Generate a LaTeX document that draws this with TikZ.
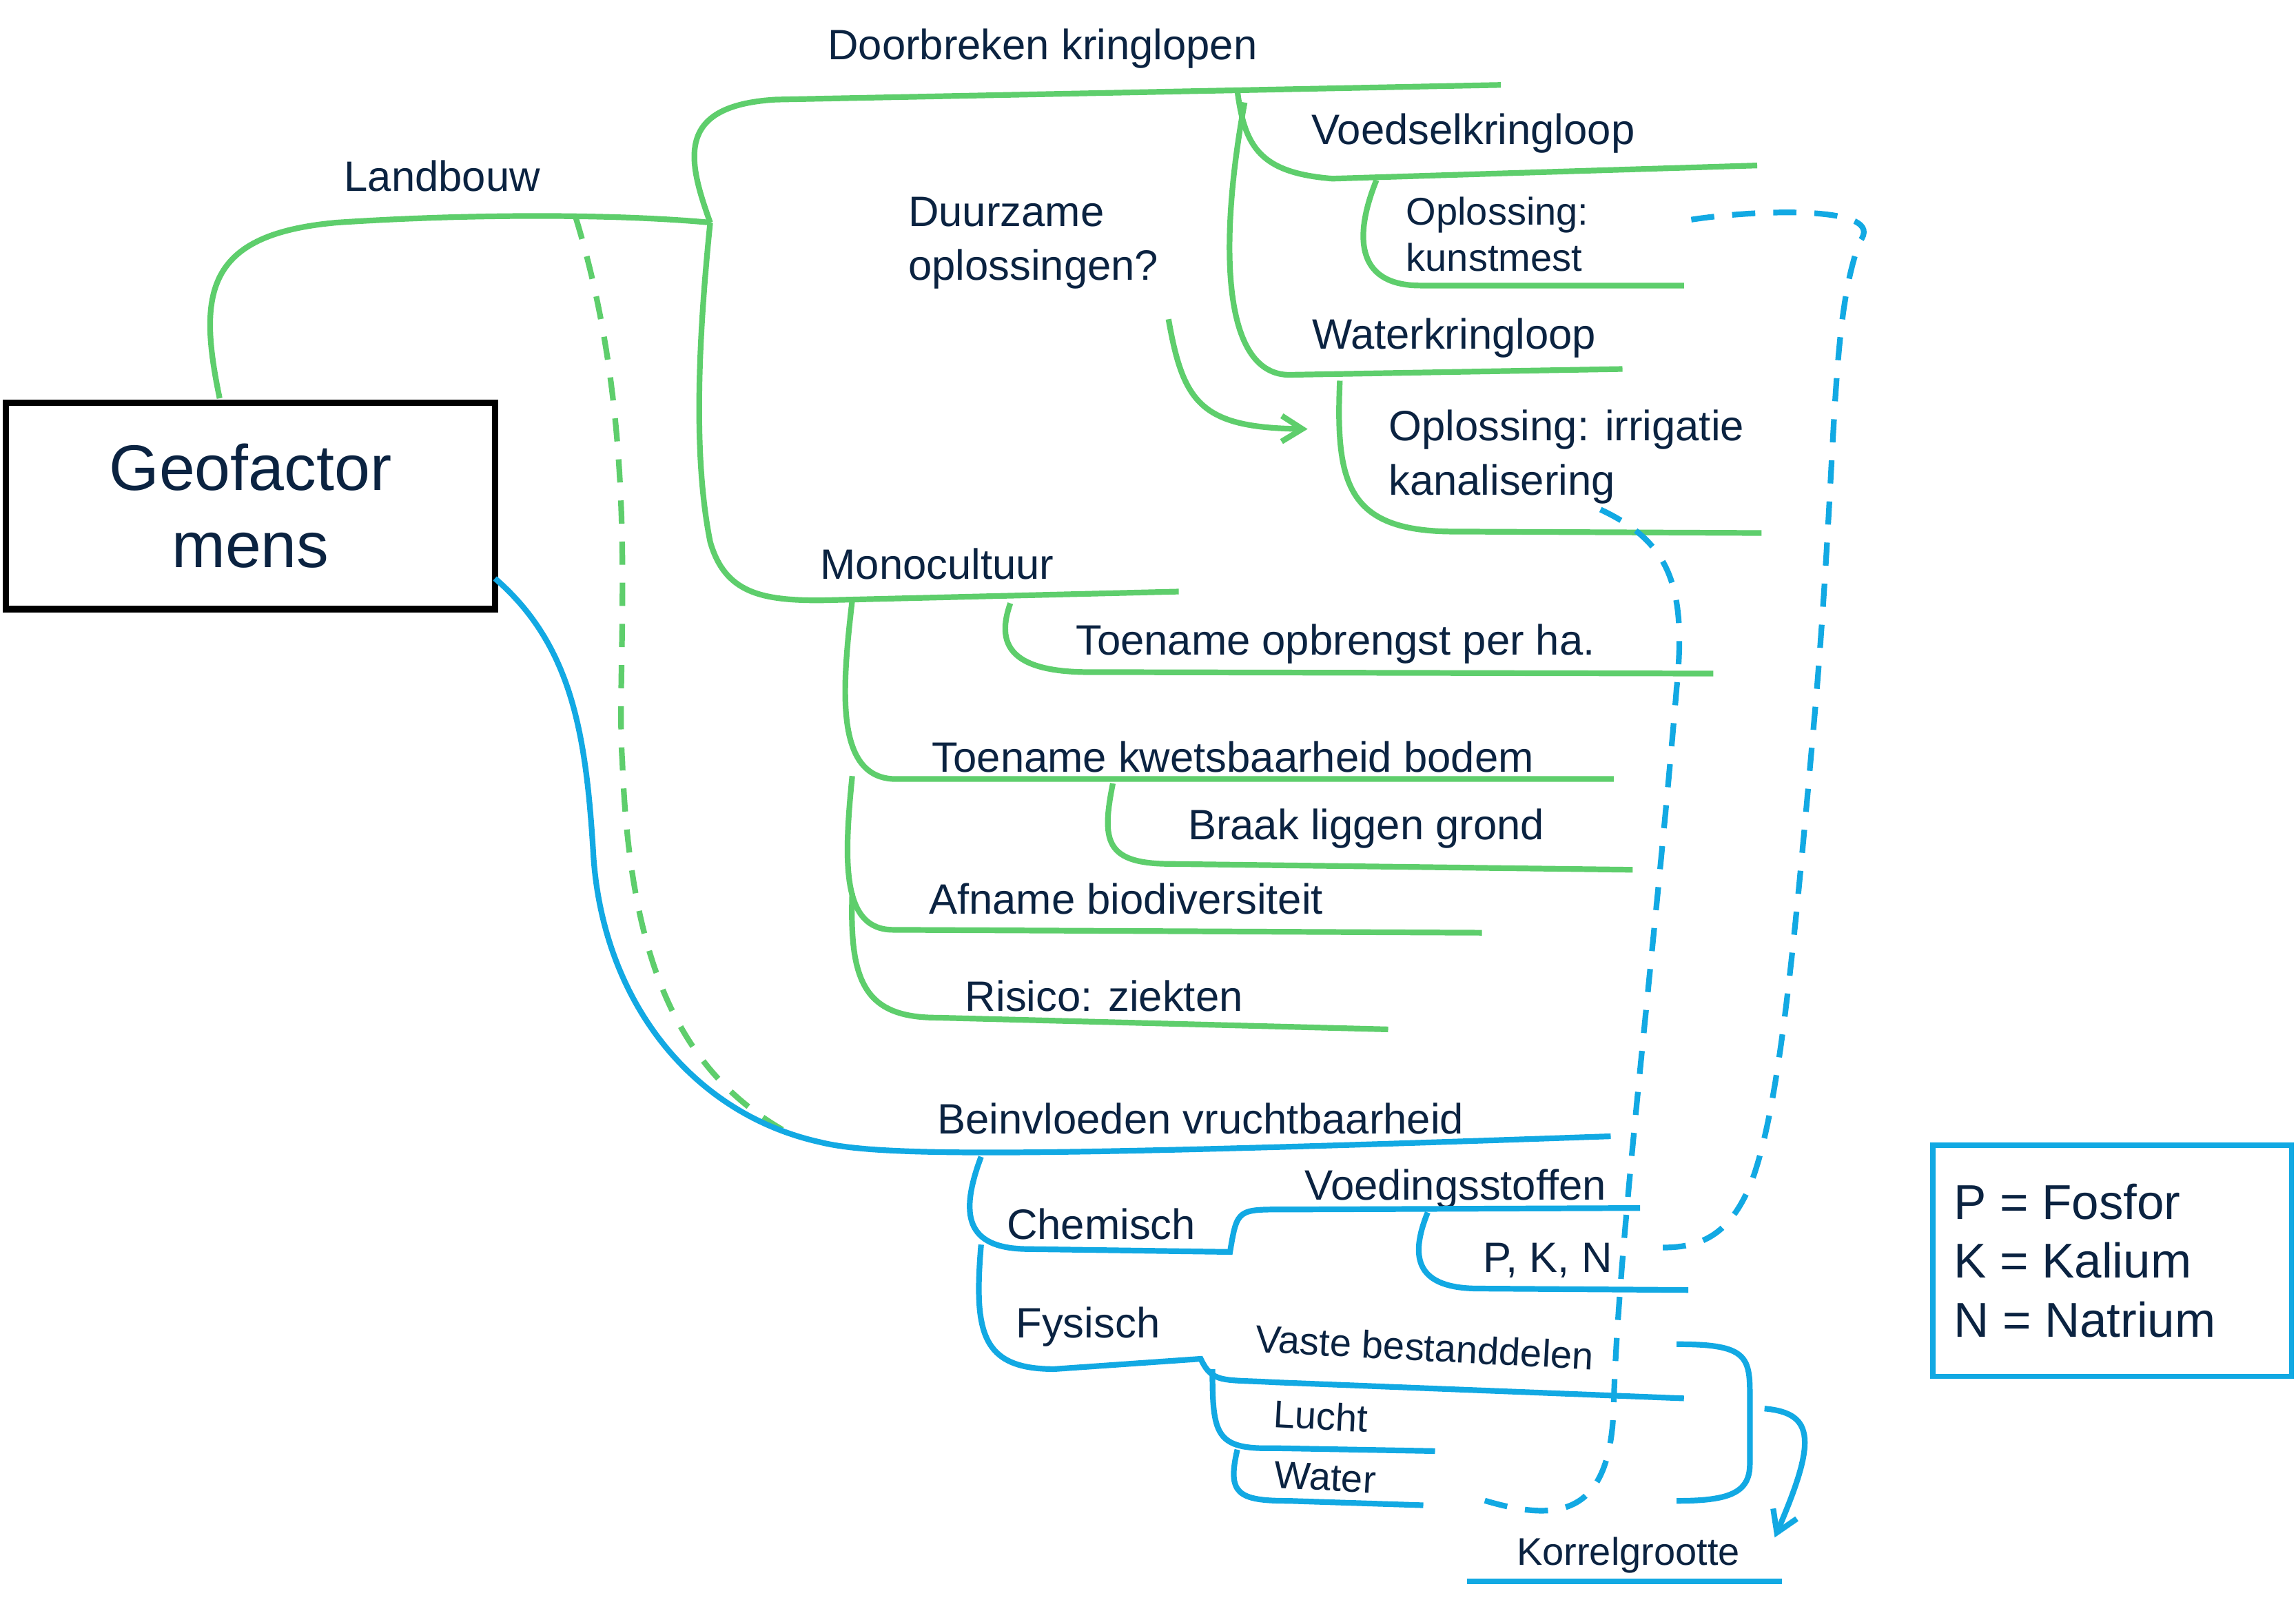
\documentclass[tikz,border=0pt]{standalone}
\usepackage{fontspec}
\setmainfont{Liberation Sans}
\usetikzlibrary{arrows.meta}
\definecolor{tx}{HTML}{0B2341}
\definecolor{gr}{HTML}{5ECE6C}
\definecolor{bl}{HTML}{12A9E3}
\begin{document}
\begin{tikzpicture}[x=0.02cm,y=-0.02cm,
 lab/.style={text=tx,font=\fontsize{16.5}{19}\selectfont,inner sep=0pt},
 sm/.style={text=tx,font=\fontsize{15}{18}\selectfont,inner sep=0pt},
 g/.style={draw=gr,line width=2.2pt},
 b/.style={draw=bl,line width=2.2pt},
 dsh/.style={dash pattern=on 9pt off 7pt}]
\useasboundingbox[fill=white] (0,0) rectangle (1568,1100);
% box
\node[draw=black,line width=2.5pt,minimum width=334*0.02cm,minimum height=141*0.02cm,text=tx,align=center,font=\fontsize{25}{30}\selectfont] (gm) at (171,345.5) {Geofactor\\mens};
% labels
\node[lab] (l1) at (302,120) {Landbouw};
\node[lab] (l2) at (712,33) {Doorbreken kringlopen};
\node[lab] (l3) at (1006,91) {Voedselkringloop};
\node[sm,anchor=west,align=left] (l4) at (960,160) {Oplossing:\\kunstmest};
\node[lab] (l5) at (993,231) {Waterkringloop};
\node[lab,anchor=west,align=left] (l6) at (948,312) {Oplossing: irrigatie\\[2pt]kanalisering};
\node[lab,anchor=west,align=left] (l7) at (620,166) {Duurzame\\[2pt]oplossingen?};
\node[lab] (l8) at (640,385) {Monocultuur};
\node[lab] (l9) at (912,440) {Toename opbrengst per ha.};
\node[lab] (l10) at (842,517) {Toename kwetsbaarheid bodem};
\node[lab] (l11) at (933,566) {Braak liggen grond};
\node[lab] (l12) at (769,614) {Afname biodiversiteit};
\node[lab] (l13) at (754,680) {Risico: ziekten};
\node[lab] (l14) at (820,764) {Beinvloeden vruchtbaarheid};
\node[lab] (l15) at (752,836) {Chemisch};
\node[lab] (l16) at (994,812) {Voedingsstoffen};
\node[lab] (l17) at (1057,861) {P, K, N};
\node[lab] (l18) at (743,906) {Fysisch};
\node[sm,rotate=-3] (l19) at (973,920) {Vaste bestanddelen};
\node[sm,rotate=-3] (l20) at (902,967) {Lucht};
\node[sm,rotate=-3] (l21) at (905,1009) {Water};
\node[sm] (l22) at (1112,1062) {Korrelgrootte};
\node[draw=bl,line width=2pt,minimum width=245*0.02cm,minimum height=158*0.02cm] (lg) at (1442.5,861) {};
\node[text=tx,font=\fontsize{19}{23}\selectfont,anchor=west,align=left] (lt) at (1328,861) {P = Fosfor\\K = Kalium\\N = Natrium};
% green lines
\draw[g] (150,272) .. controls (135,200) and (140,160) .. (230,152) .. controls (320,146) and (420,146) .. (485,152);
\draw[g] (485,152) .. controls (470,110) and (460,72) .. (530,68) -- (1025,58);
\draw[g] (485,152) .. controls (475,250) and (475,320) .. (485,370) .. controls (495,405) and (520,410) .. (560,410) -- (805,404);
\draw[g] (845,62) .. controls (850,100) and (860,118) .. (910,122) -- (1200,113);
\draw[g] (940,123) .. controls (925,160) and (925,195) .. (970,195) -- (1150,195);
\draw[g] (850,70) .. controls (835,150) and (830,255) .. (880,256) -- (1108,252);
\draw[g] (915,260) .. controls (912,330) and (920,362) .. (990,363) -- (1203,364);
\draw[g,-{Straight Barb[length=8pt,width=10pt]}] (798,218) .. controls (808,275) and (820,292) .. (893,293);
\draw[g] (690,412) .. controls (680,440) and (690,458) .. (740,459) -- (1170,460);
\draw[g] (582,410) .. controls (575,470) and (570,530) .. (610,532) -- (1102,532);
\draw[g] (760,535) .. controls (752,575) and (755,590) .. (800,590) -- (1115,594);
\draw[g] (582,530) .. controls (576,590) and (575,635) .. (610,635) -- (1012,637);
\draw[g] (582,610) .. controls (580,670) and (590,695) .. (640,695) -- (948,703);
\draw[g,dsh] (393,148) .. controls (440,300) and (420,450) .. (425,520) .. controls (430,650) and (460,730) .. (537,773);
% blue lines
\draw[b] (338,395) .. controls (390,440) and (400,500) .. (405,580) .. controls (410,680) and (470,760) .. (560,780) .. controls (600,790) and (700,790) .. (1100,776);
\draw[b] (670,790) .. controls (655,830) and (660,852) .. (700,853) -- (840,855) .. controls (845,825) and (845,826) .. (880,826) -- (1120,825);
\draw[b] (975,828) .. controls (962,860) and (968,880) .. (1010,880) -- (1153,881);
\draw[b] (670,850) .. controls (665,910) and (670,935) .. (720,935) -- (820,928) .. controls (828,945) and (835,942) .. (870,944) -- (1150,955);
\draw[b] (828,935) .. controls (828,980) and (830,990) .. (870,989) -- (980,991);
\draw[b] (845,990) .. controls (838,1020) and (845,1025) .. (880,1025) -- (972,1028);
\draw[b] (1145,918) .. controls (1190,918) and (1195,925) .. (1195,950) -- (1195,1000) .. controls (1195,1020) and (1180,1025) .. (1145,1025);
\draw[b,-{Straight Barb[length=8pt,width=10pt]}] (1205,962) .. controls (1240,965) and (1240,985) .. (1212,1050);
\draw[b] (1002,1080) -- (1217,1080);
\draw[b,dsh] (1155,150) .. controls (1200,143) and (1290,140) .. (1270,165) .. controls (1250,220) and (1255,300) .. (1240,480) .. controls (1225,650) and (1215,760) .. (1195,810) .. controls (1180,845) and (1160,852) .. (1135,852);
\draw[b,dsh] (1093,348) .. controls (1140,370) and (1152,400) .. (1145,470) .. controls (1130,650) and (1105,850) .. (1102,960) .. controls (1100,1040) and (1060,1040) .. (1005,1022);
\end{tikzpicture}
\end{document}
